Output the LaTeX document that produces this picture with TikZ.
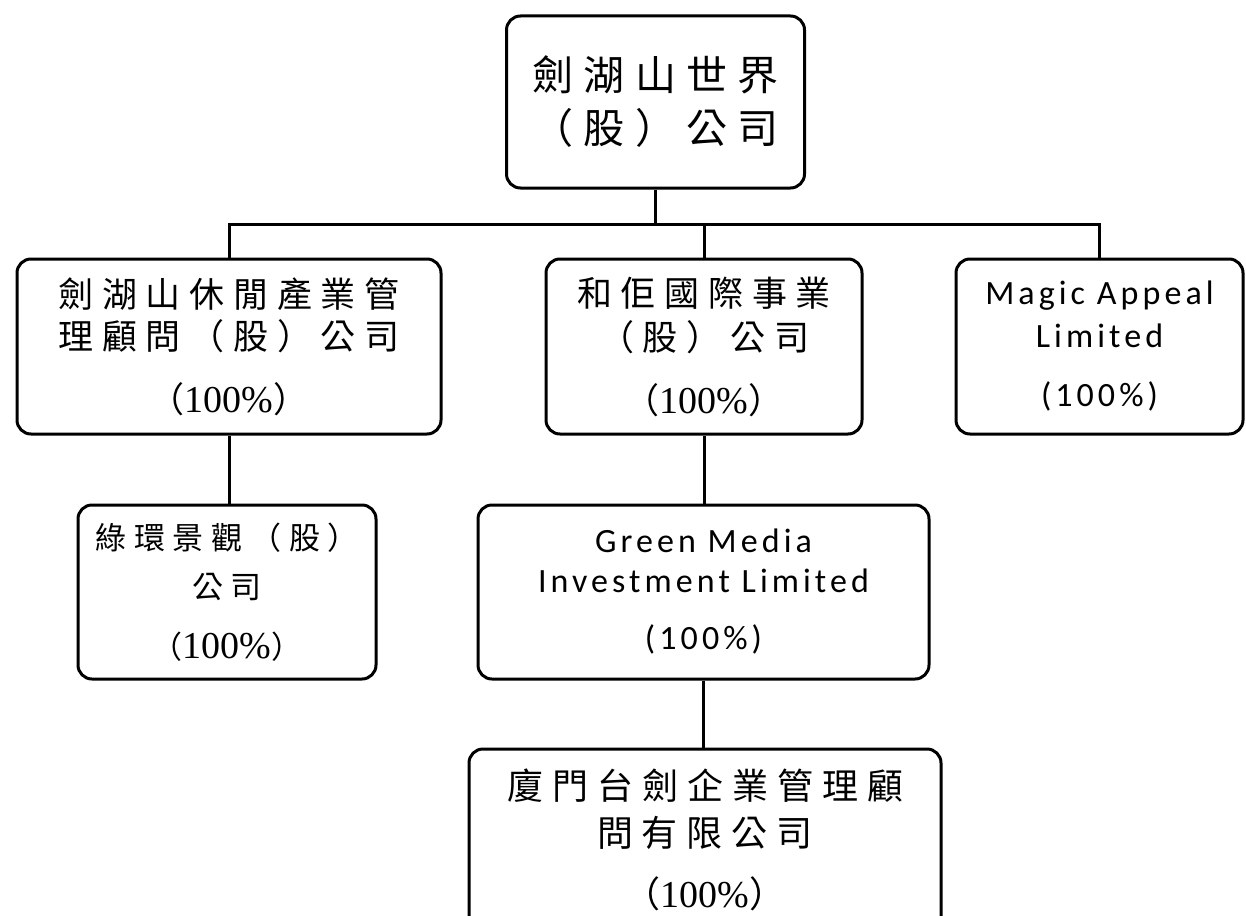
\documentclass[tikz,border=0pt]{standalone}
\usepackage{fontspec}
\setmainfont{Liberation Serif}
\newfontfamily\cjk[LetterSpace=25]{Noto Sans CJK TC}
\newfontfamily\eng[LetterSpace=12]{Carlito}
\newcommand{\cjkpct}{{\cjk （}{\rmfamily\fontsize{38}{38}\selectfont 100\%}{\cjk ）}}

\begin{document}
\begin{tikzpicture}[x=1pt, y=-1pt,
    corp/.style={draw, line width=3pt, rounded corners=14pt, align=center, inner sep=0pt},
    link/.style={line width=3pt}]
    \useasboundingbox (0,0) rectangle (1246,915);
    % parent company
    \node[corp, minimum width=298pt, minimum height=172pt,
          font=\cjk\fontsize{41}{53}\selectfont] (world) at (655.5,102) {劍湖山世界\\（股）公司};
    % subsidiaries
    \node[corp, minimum width=424pt, minimum height=175pt,
          font=\cjk\fontsize{35}{42}\selectfont] (leisure) at (229,346.5)
          {劍湖山休閒產業管\\理顧問（股）公司\\[21pt]\cjkpct};
    \node[corp, minimum width=316pt, minimum height=175pt,
          font=\cjk\fontsize{35}{44}\selectfont] (hoju) at (704,346.5)
          {和佢國際事業\\（股）公司\\[19pt]\cjkpct};
    \node[corp, minimum width=287pt, minimum height=175pt,
          font=\eng\fontsize{34}{43}\selectfont] (magic) at (1099.5,346.5)
          {Magic Appeal\\Limited\\[16pt](100\%)};
    \node[corp, minimum width=298pt, minimum height=174pt,
          font=\cjk\fontsize{31}{49}\selectfont] (landscape) at (227,592)
          {綠環景觀（股）\\公司\\[11pt]\cjkpct};
    \node[corp, minimum width=451pt, minimum height=174pt,
          font=\eng\fontsize{34}{40}\selectfont] (media) at (703.5,592)
          {Green Media\\Investment Limited\\[17pt](100\%)};
    \node[corp, minimum width=472pt, minimum height=182pt,
          font=\cjk\fontsize{36}{47}\selectfont] (xiamen) at (705,840)
          {廈門台劍企業管理顧\\問有限公司\\[14pt]\cjkpct};
    % links
    \draw[link] (world.south) -- ++(0,35) coordinate (bus);
    \draw[link] (leisure.north) |- (bus) -| (magic.north);
    \draw[link] (hoju.north) -- (hoju.north |- bus);
    \draw[link] (leisure.south) -- (leisure.south |- landscape.north);
    \draw[link] (hoju.south) -- (hoju.south |- media.north);
    \draw[link] (media.south) -- (media.south |- xiamen.north);
\end{tikzpicture}
\end{document}
